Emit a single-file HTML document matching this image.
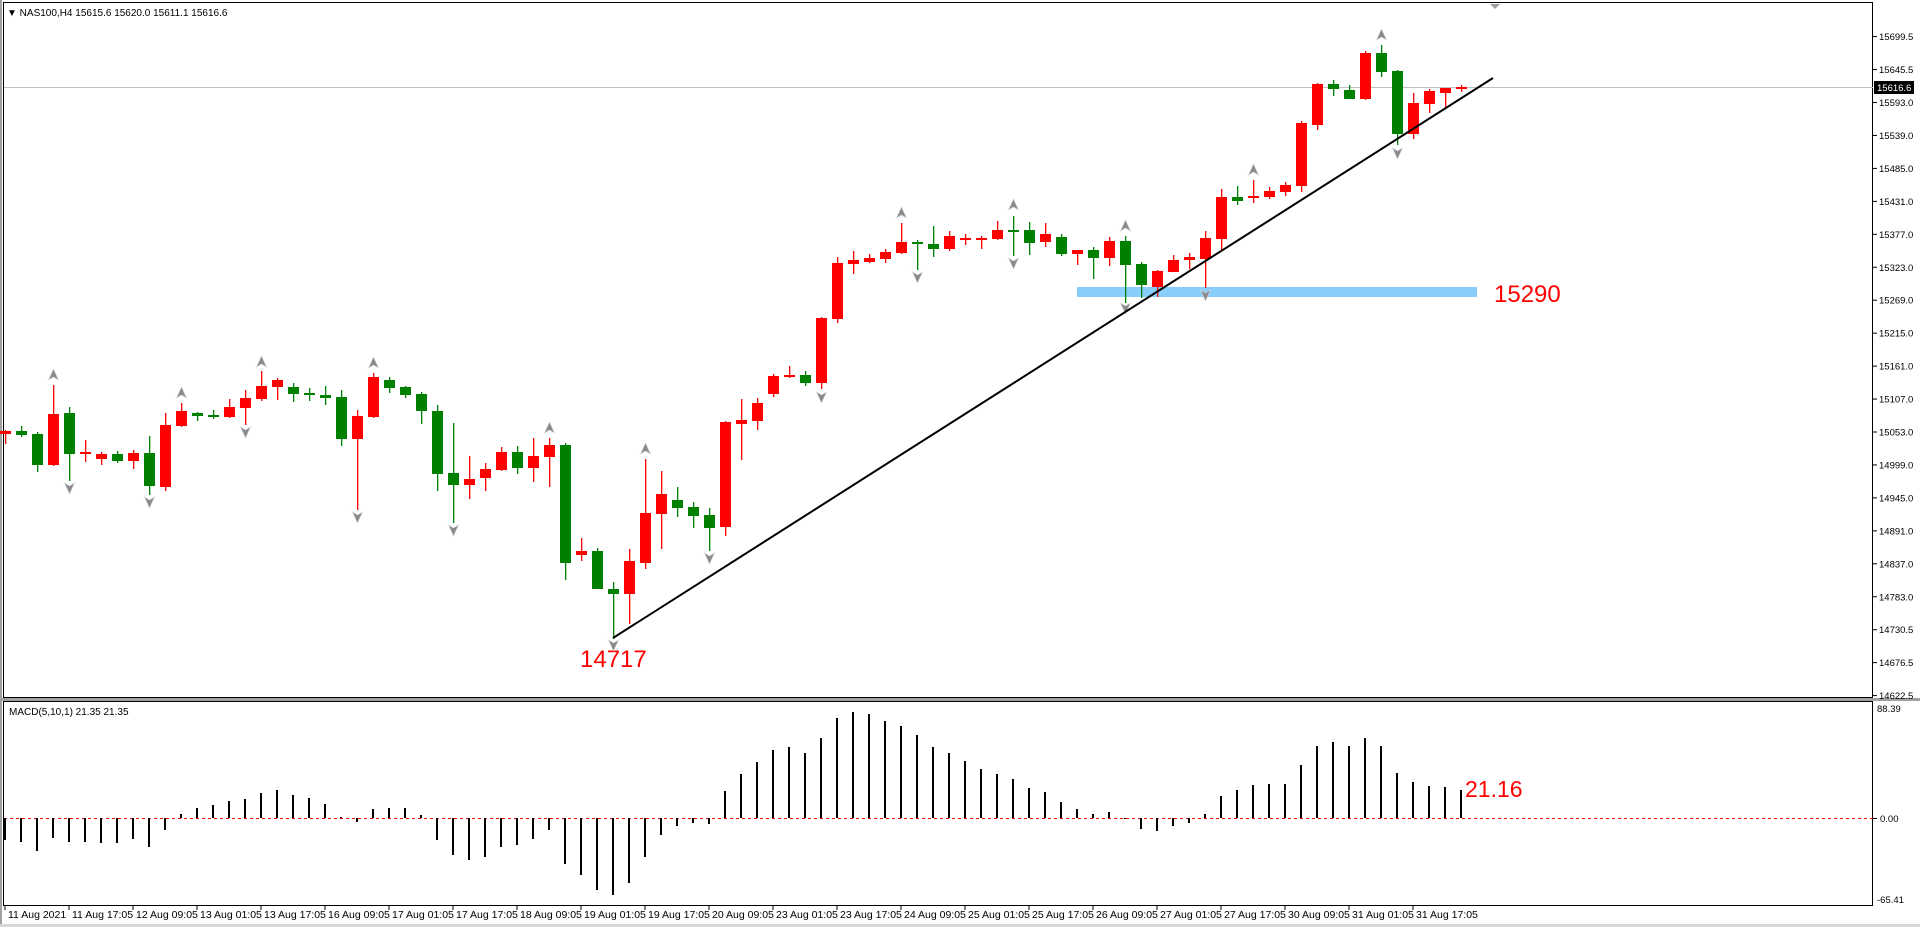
<!DOCTYPE html>
<html><head><meta charset="utf-8">
<style>
html,body{margin:0;padding:0;background:#fff;}
body{width:1920px;height:927px;overflow:hidden;position:relative;font-family:"Liberation Sans",sans-serif;}
svg{position:absolute;left:0;top:0;}
</style></head>
<body>
<svg id="s" width="1920" height="927" viewBox="0 0 1920 927" xmlns="http://www.w3.org/2000/svg" font-family="Liberation Sans, sans-serif">
<rect x="0" y="0" width="1920" height="927" fill="#fff"/>
<rect x="0" y="0" width="2" height="927" fill="#a0a0a0"/>
<rect x="3.5" y="2.5" width="1869" height="695" fill="none" stroke="#000" stroke-width="1"/>
<rect x="0" y="698" width="1920" height="3" fill="#a0a0a0"/>
<rect x="3.5" y="701.5" width="1869" height="204" fill="none" stroke="#000" stroke-width="1"/>
<rect x="0" y="924" width="1920" height="3" fill="#d8d8d8"/>
<line x1="4" y1="87.5" x2="1873" y2="87.5" stroke="#c0c0c0" stroke-width="1"/>
<rect x="1077" y="287" width="400" height="10" fill="#87cefa"/>
<text x="1494" y="302" font-size="24" fill="#ff0000">15290</text>
<text x="580" y="667" font-size="24" fill="#ff0000">14717</text>
<g id="c"></g>
<line x1="613" y1="638" x2="1493" y2="78" stroke="#000" stroke-width="2"/>
<polygon points="1490,4 1500,4 1495,9" fill="#a0a0a0"/>
<line x1="4" y1="818.5" x2="1873" y2="818.5" stroke="#ff0000" stroke-width="1" stroke-dasharray="3,3"/>
<g id="m"></g>
<text x="1465" y="797" font-size="23" fill="#ff0000">21.16</text>
<text x="7" y="16" font-size="10" fill="#000">▼ NAS100,H4  15615.6 15620.0 15611.1 15616.6</text>
<text x="9" y="715" font-size="10" fill="#000">MACD(5,10,1) 21.35 21.35</text>
<g id="ax" font-size="9.5" fill="#000"></g>
<rect x="1874" y="81" width="40" height="13" fill="#000"/>
<text x="1877" y="91" font-size="9.5" fill="#fff">15616.6</text>
<text x="1877" y="712" font-size="9.5" fill="#000">88.39</text>
<text x="1880" y="822" font-size="9.5" fill="#000">0.00</text>
<line x1="1873" y1="818.5" x2="1877" y2="818.5" stroke="#000"/>
<text x="1877" y="903" font-size="9.5" fill="#000">-65.41</text>
<g id="dt" font-size="10.5" fill="#000"></g>
</svg>
<script>
var NS="http://www.w3.org/2000/svg";
function el(p,t,a,txt){var e=document.createElementNS(NS,t);for(var k in a)e.setAttribute(k,a[k]);if(txt!=null)e.textContent=txt;p.appendChild(e);return e;}
var C=[[430,444,431,434,'r'],[426,437,431,435,'g'],[432,472,434,465,'g'],[385,466,414,465,'r'],[407,481,413,454,'g'],[440,462,452,454,'r'],[452,465,454,459,'r'],[451,463,454,461,'g'],[450,469,453,461,'r'],[436,495,453,486,'g'],
[413,491,425,487,'r'],[403,427,411,426,'r'],[412,421,413,416,'g'],[410,419,415,417,'g'],[399,418,407,417,'r'],[390,425,398,408,'r'],[371,401,386,399,'r'],[378,400,380,387,'r'],[383,402,387,394,'g'],[388,401,393,395,'g'],
[386,405,395,398,'g'],[390,446,397,439,'g'],[410,510,416,439,'r'],[373,418,377,417,'r'],[377,393,380,388,'g'],[386,398,387,395,'g'],[392,424,394,411,'g'],[405,491,411,474,'g'],[423,523,473,485,'g'],[456,499,479,485,'r'],
[463,491,469,478,'r'],[447,471,452,470,'r'],[446,474,452,468,'g'],[438,482,456,468,'r'],[438,487,445,457,'r'],[443,580,445,563,'g'],[538,561,551,555,'r'],[548,589,551,589,'g'],[582,639,589,594,'g'],[549,624,561,594,'r'],
[459,569,513,563,'r'],[471,549,494,514,'r'],[487,517,500,508,'g'],[502,528,507,516,'g'],[508,551,515,528,'g'],[421,536,422,527,'r'],[399,460,420,424,'r'],[398,430,403,421,'r'],[374,397,376,394,'r'],[366,378,375,377,'r'],
[371,386,375,383,'g'],[317,389,318,383,'r'],[257,323,263,319,'r'],[251,274,260,264,'r'],[254,263,258,262,'r'],[249,263,252,259,'r'],[223,254,242,253,'r'],[240,270,242,244,'g'],[226,257,244,249,'g'],[231,251,236,249,'r'],
[234,245,238,240,'r'],[236,249,238,239,'r'],[221,240,230,239,'r'],[216,256,230,231,'g'],[222,255,230,243,'g'],[223,247,234,242,'r'],[234,256,237,254,'g'],[250,265,250,254,'r'],[247,279,250,258,'g'],[237,266,241,258,'r'],
[236,303,241,265,'g'],[262,298,264,285,'g'],[270,297,271,287,'r'],[255,272,260,272,'r'],[253,269,257,260,'r'],[231,288,238,259,'r'],[189,250,197,239,'r'],[186,205,197,201,'g'],[180,203,196,197,'r'],[187,199,191,197,'r'],
[182,196,185,192,'r'],[121,192,123,186,'r'],[83,130,84,125,'r'],[80,96,84,89,'g'],[85,99,90,99,'g'],[51,100,53,99,'r'],[45,77,53,72,'g'],[70,145,71,134,'g'],[93,139,103,134,'r'],[89,113,91,104,'r'],
[88,107,88,93,'r'],[85,92,87,89,'r']];
var g=document.getElementById('c');
C.forEach(function(d,i){var x=5+16*i;var col=d[4]=='r'?'#ff0000':'#008000';
 el(g,'rect',{x:x,y:d[0],width:1.3,height:d[1]-d[0],fill:col});
 var h=Math.max(2,d[3]-d[2]);el(g,'rect',{x:x-5,y:d[2],width:11,height:h,fill:col});});
function up(x,y){el(g,'polygon',{points:(x+0.5)+','+(y-6)+' '+(x+5.5)+','+(y+5)+' '+(x+0.5)+','+(y+2)+' '+(x-4.5)+','+(y+5),fill:'#8a8a8a',stroke:'#d0d0d0','stroke-width':0.6});}
function dn(x,y){el(g,'polygon',{points:(x+0.5)+','+(y+6)+' '+(x+5.5)+','+(y-5)+' '+(x+0.5)+','+(y-2)+' '+(x-4.5)+','+(y-5),fill:'#8a8a8a',stroke:'#d0d0d0','stroke-width':0.6});}
[[3,375],[11,393],[16,362],[23,363],[34,428],[40,449],[56,213],[63,205],[70,226],[78,170],[86,35]].forEach(function(a){up(5+16*a[0],a[1]);});
[[4,488],[9,502],[15,432],[22,517],[28,530],[38,645],[44,558],[51,397],[57,277],[63,263],[70,308],[75,295],[87,153]].forEach(function(a){dn(5+16*a[0],a[1]);});
var M=[840,842,851,838,842,842,843,843,839,847,830,814,808,805,801,799,793,790,795,798,804,817,822,809,808,808,815,840,855,860,857,847,845,839,830,864,875,890,895,883,857,835,826,823,824,791,774,762,750,747,753,738,718,712,714,721,726,735,747,753,761,769,774,779,788,792,802,809,814,812,819,829,831,826,823,814,796,790,785,784,784,765,746,742,746,738,746,773,782,786,787,790];
var m=document.getElementById('m');
M.forEach(function(v,i){var x=4+16*i;var y0=Math.min(v,818),h=Math.max(1,Math.abs(v-818));el(m,'rect',{x:x,y:y0,width:2,height:h,fill:'#000'});});
var ax=document.getElementById('ax');
var P=["15699.5","15645.5","15593.0","15539.0","15485.0","15431.0","15377.0","15323.0","15269.0","15215.0","15161.0","15107.0","15053.0","14999.0","14945.0","14891.0","14837.0","14783.0","14730.5","14676.5","14622.5"];
for(var k=0;k<21;k++){var y=36.6+32.95*k;el(ax,'line',{x1:1873,y1:y,x2:1877,y2:y,stroke:'#000'});el(ax,'text',{x:1879,y:y+3.5},P[k]);}
var D=["11 Aug 2021","11 Aug 17:05","12 Aug 09:05","13 Aug 01:05","13 Aug 17:05","16 Aug 09:05","17 Aug 01:05","17 Aug 17:05","18 Aug 09:05","19 Aug 01:05","19 Aug 17:05","20 Aug 09:05","23 Aug 01:05","23 Aug 17:05","24 Aug 09:05","25 Aug 01:05","25 Aug 17:05","26 Aug 09:05","27 Aug 01:05","27 Aug 17:05","30 Aug 09:05","31 Aug 01:05","31 Aug 17:05"];
var dt=document.getElementById('dt');
D.forEach(function(s,i){var x=5+64*i;el(dt,'line',{x1:x,y1:906,x2:x,y2:910,stroke:'#000'});el(dt,'text',{x:x+3,y:918},s);});
</script>
</body></html>
